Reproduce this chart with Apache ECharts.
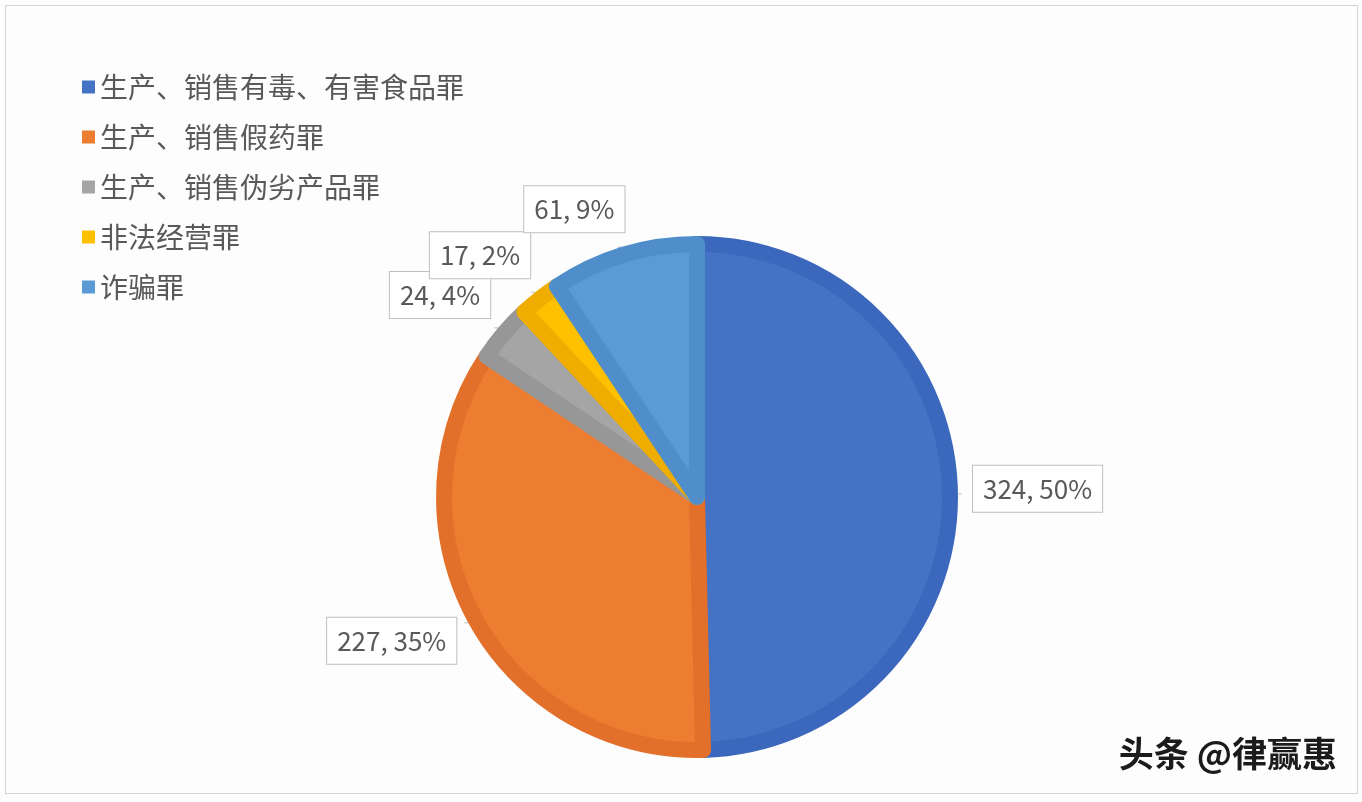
<!DOCTYPE html>
<html>
<head>
<meta charset="utf-8">
<script src="https://cdn.jsdelivr.net/npm/echarts@6/dist/echarts.min.js"></script>
<style>
  html, body { margin: 0; padding: 0; background: #fdfdfe; }
  #chart { position: absolute; left: 0; top: 0; width: 1362px; height: 802px; }
  #frame { position: absolute; left: 5px; top: 5px; width: 1351px; height: 787px; border: 1px solid #d3d3d3; pointer-events: none; }
</style>
</head>
<body>
<div id="chart"></div>
<div id="frame"></div>
<script>
const categories = ['生产、销售有毒、有害食品罪', '生产、销售假药罪', '生产、销售伪劣产品罪', '非法经营罪', '诈骗罪'];
const values = [324, 227, 24, 17, 61];
const fillColors = ['#4472c4', '#ed7d31', '#a5a5a5', '#ffc000', '#5b9bd5'];
const edgeColors = ['#3b67bc', '#e2702a', '#979797', '#efad00', '#4f8ecb'];
const labelShift = [[6, -5], [-3, 18], [1, -33], [4, -37], [12, -38]];

const chart = echarts.init(document.getElementById('chart'));
const font = '"Noto Sans CJK SC", "Noto Sans", sans-serif';

chart.setOption({
  backgroundColor: '#fdfdfe',
  animation: false,
  title: {
    text: '头条 @律赢惠',
    right: 20,
    bottom: 26,
    textStyle: { fontFamily: font, fontSize: 35, fontWeight: 'bold', color: '#1b1b1b' }
  },
  legend: {
    orient: 'vertical',
    left: 77,
    top: 68,
    itemWidth: 13,
    itemHeight: 13,
    itemGap: 22,
    icon: 'rect',
    itemStyle: { borderWidth: 0 },
    textStyle: { fontFamily: font, fontSize: 28, color: '#595959', padding: [0, 0, 0, 0] },
    data: categories
  },
  series: [{
    type: 'pie',
    center: [697, 497],
    radius: 253,
    startAngle: 90,
    clockwise: true,
    avoidLabelOverlap: false,
    percentPrecision: 0,
    itemStyle: { borderWidth: 16, borderJoin: 'round' },
    label: {
      show: true,
      position: 'outside',
      formatter: '{c}, {d}%',
      fontFamily: font,
      fontSize: 26,
      color: '#595959',
      backgroundColor: '#ffffff',
      borderColor: '#bfbfbf',
      borderWidth: 1,
      padding: [10, 10, 10, 10]
    },
    labelLine: { show: true, length: 8, length2: 4, lineStyle: { color: '#bfbfbf', width: 1 } },
    labelLayout: function (p) {
      const s = labelShift[p.dataIndex];
      return { dx: s[0], dy: s[1] };
    },
    emphasis: { disabled: true },
    data: categories.map(function (name, i) {
      return {
        name: name,
        value: values[i],
        itemStyle: { color: fillColors[i], borderColor: edgeColors[i] }
      };
    })
  }]
});
</script>
</body>
</html>
